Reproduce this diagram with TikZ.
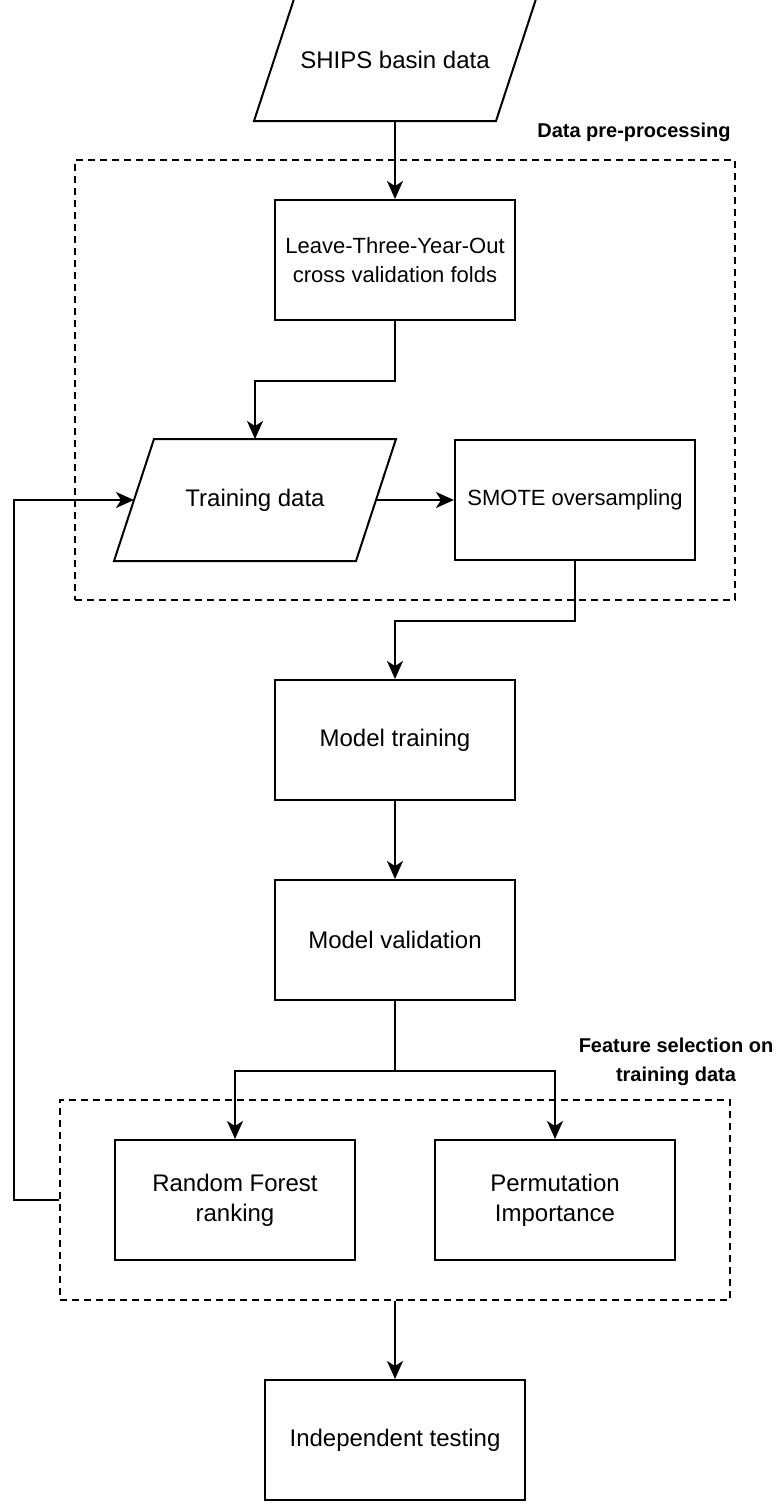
\documentclass[tikz,border=0pt]{standalone}
\usepackage{fontspec}
\setmainfont{Liberation Sans}
\usetikzlibrary{arrows.meta}
\begin{document}
\begin{tikzpicture}[x=1pt, y=-1pt, line width=2pt,
        every node/.style={font=\fontsize{24}{30}\selectfont, align=center},
        smalltext/.style={font=\fontsize{22}{29}\selectfont},
        procbox/.style={draw, minimum width=240pt, minimum height=120pt, inner sep=0pt},
        databox/.style={minimum width=200pt, minimum height=120pt, inner sep=0pt},
        groupbox/.style={draw, dash pattern=on 7pt off 5pt, inner sep=0pt},
        grouplabel/.style={font=\fontsize{20}{29}\selectfont\bfseries},
        flow/.style={-{Stealth[length=18pt, width=16pt, inset=5pt]}}]
            \useasboundingbox (0,0) rectangle (776,1504);
            \node [groupbox, minimum width=660pt, minimum height=440pt] (prep) at (405,380) {};
            \node [groupbox, minimum width=670pt, minimum height=200pt] (feat) at (395,1200) {};
            \node [grouplabel] (preplabel) at (634,132) {Data pre-processing};
            \node [grouplabel] (featlabel) at (676,1062) {Feature selection on\\training data};
            \node [databox] (ships) at (395,60) {SHIPS basin data};
            \draw (ships.north west) -- ([xshift=40pt]ships.north east) -- (ships.south east) -- ([xshift=-40pt]ships.south west) -- cycle;
            \node [procbox, smalltext] (folds) at (395,260) {Leave-Three-Year-Out\\cross validation folds};
            \node [databox] (train) at (255,500) {Training data};
            \draw (train.north west) -- ([xshift=40pt]train.north east) -- (train.south east) -- ([xshift=-40pt]train.south west) -- cycle;
            \node [procbox, smalltext] (smote) at (575,500) {SMOTE oversampling};
            \node [procbox] (modeltrain) at (395,740) {Model training};
            \node [procbox] (modelvalid) at (395,940) {Model validation};
            \node [procbox] (rfrank) at (235,1200) {Random Forest\\ranking};
            \node [procbox] (permimp) at (555,1200) {Permutation\\Importance};
            \node [procbox, minimum width=260pt] (indtest) at (395,1440) {Independent testing};
            \draw [flow] (ships.south) -- (folds.north);
            \draw [flow] (folds.south) -- ++(0,60) -| (train.north);
            \draw [flow] ([xshift=20pt]train.east) -- (smote.west);
            \draw [flow] (smote.south) -- ++(0,60) -| (modeltrain.north);
            \draw [flow] (modeltrain.south) -- (modelvalid.north);
            \draw (modelvalid.south) -- ++(0,70) coordinate (split);
            \draw [flow] (split) -| (rfrank.north);
            \draw [flow] (split) -| (permimp.north);
            \draw [flow] (feat.west) -- ++(-45,0) |- ([xshift=-20pt]train.west);
            \draw [flow] (feat.south) -- (indtest.north);
        \end{tikzpicture}
\end{document}
